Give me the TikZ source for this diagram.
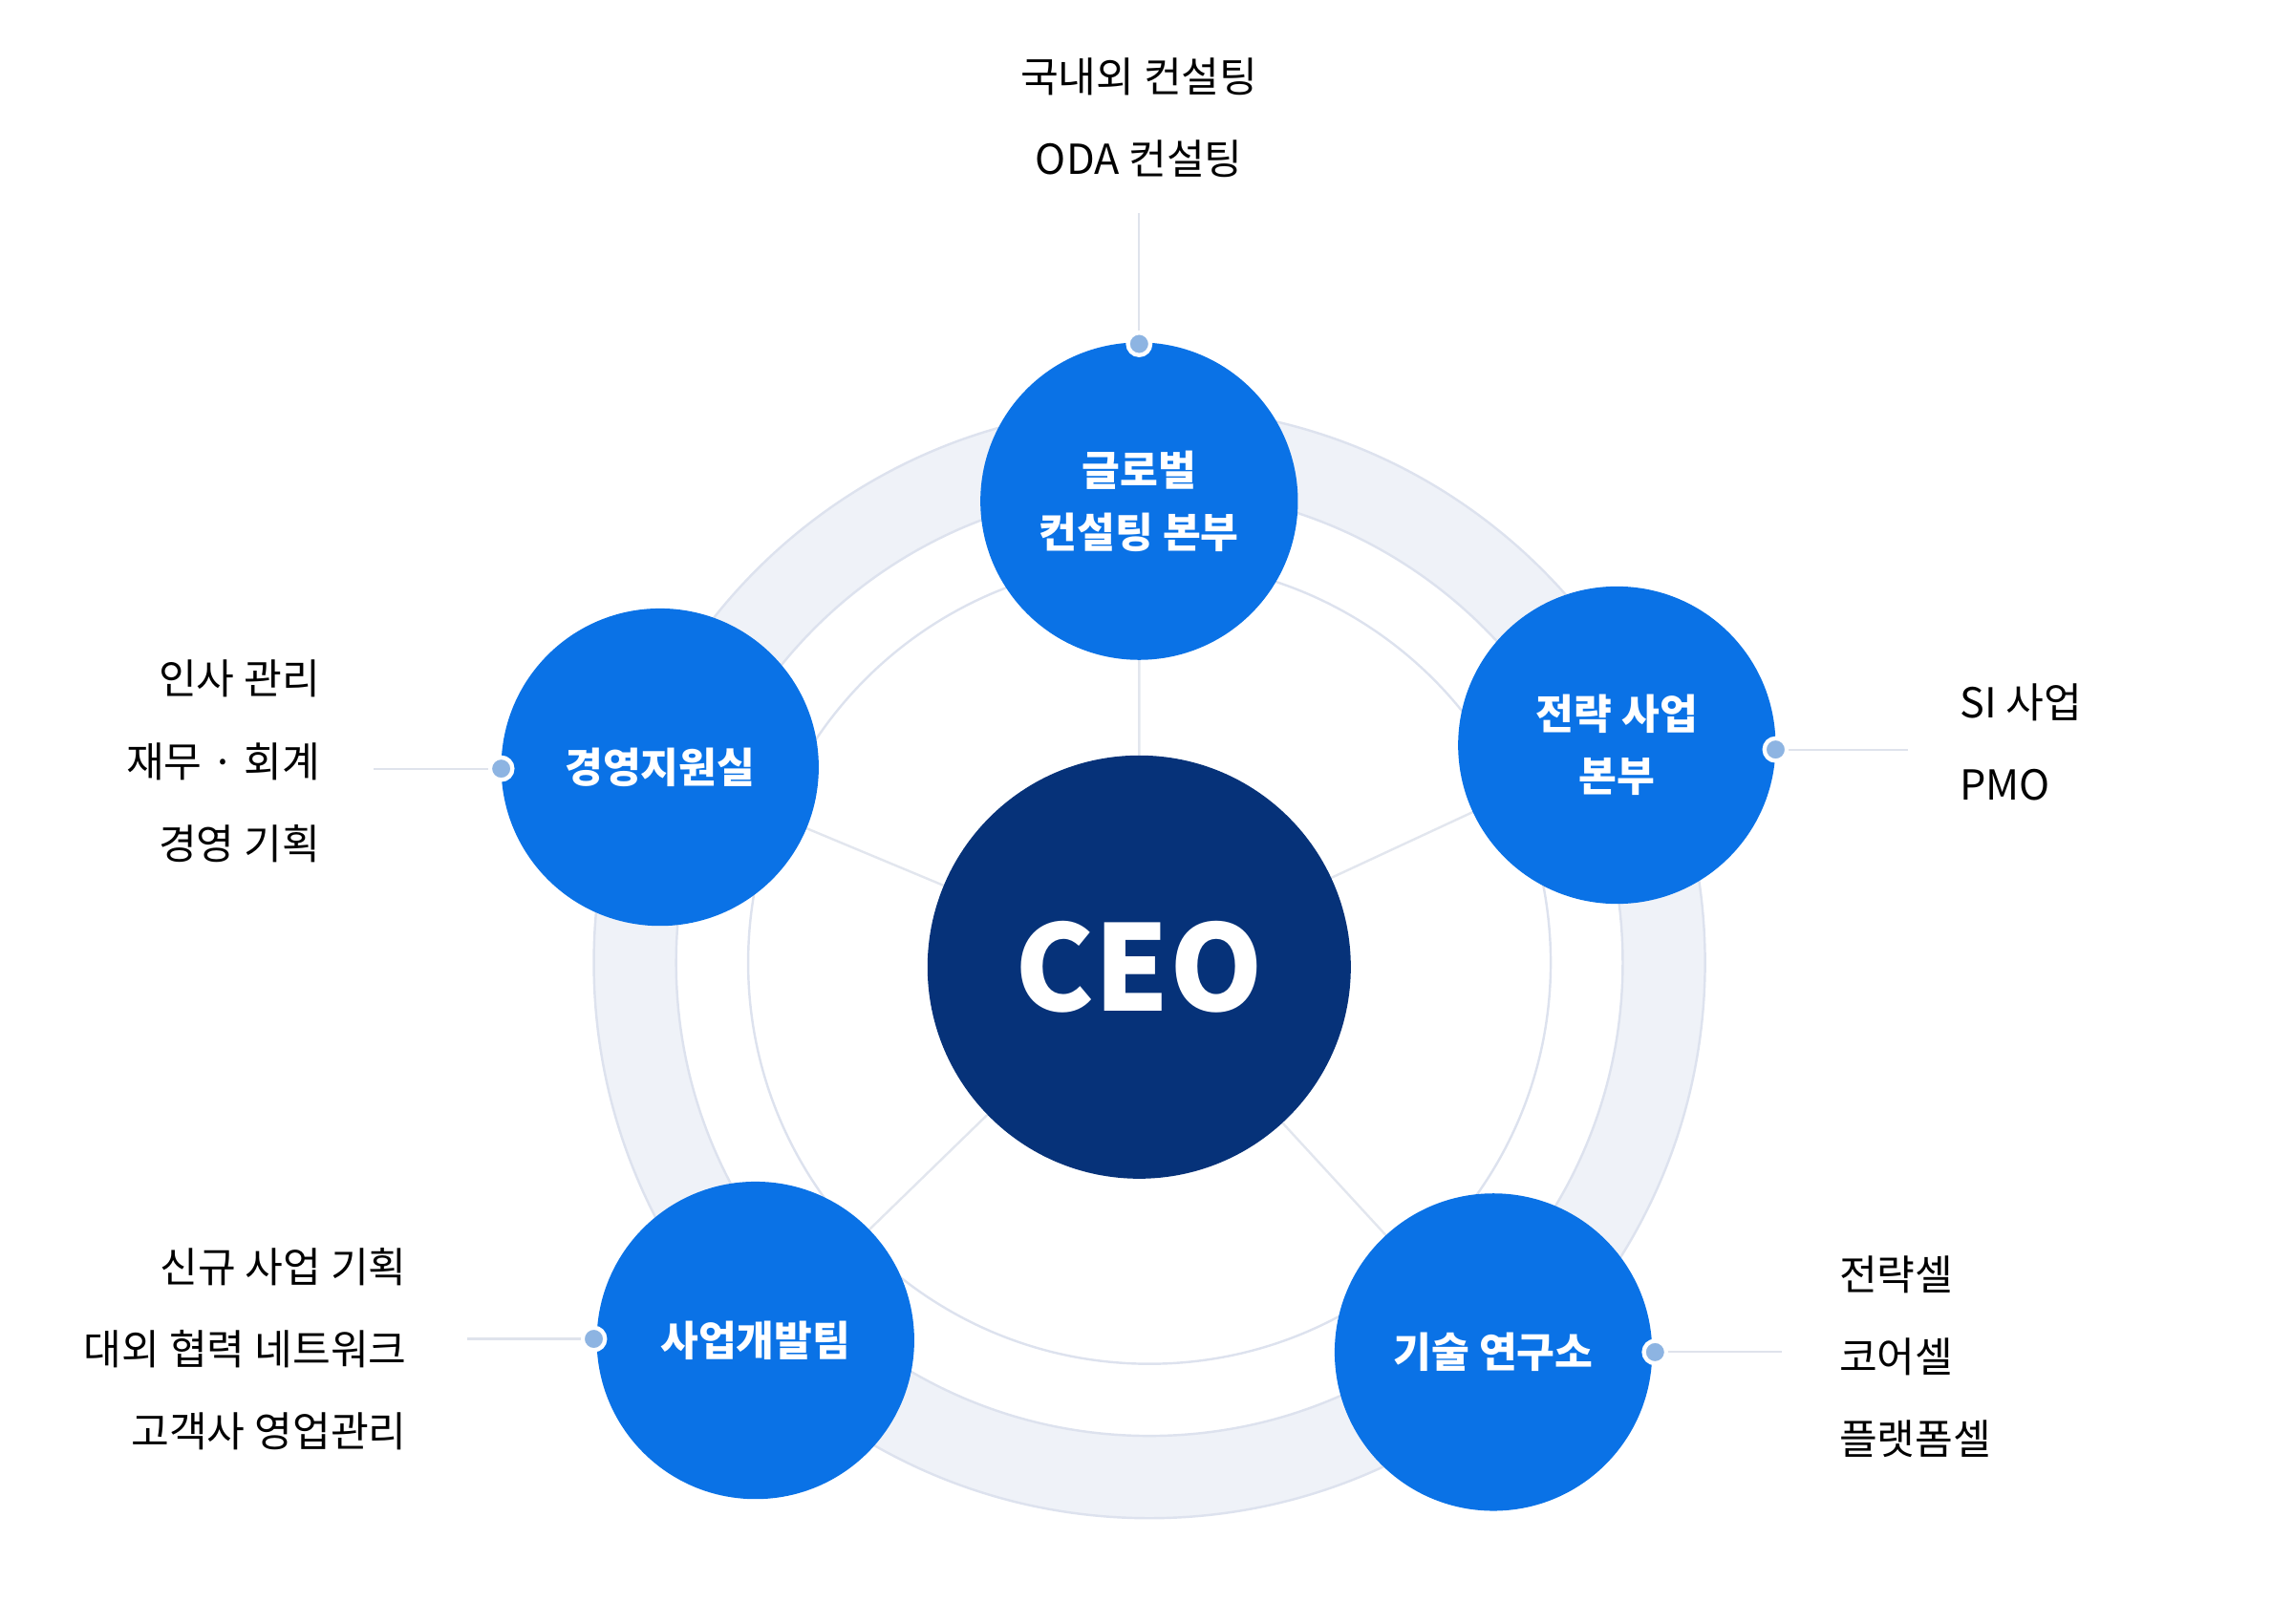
\documentclass[tikz,border=0pt]{standalone}
\usepackage{fontspec}
\setmainfont{Noto Sans CJK KR}
\begin{document}
\begin{tikzpicture}[x=0.02cm,y=-0.02cm,
  dept/.style={circle,fill=nodeblue,minimum size=216*0.02cm,inner sep=0pt,text=white,font=\fontsize{16}{24}\selectfont\bfseries,align=center},
  dot/.style={circle,fill=dotblue,draw=white,line width=1.6pt,minimum size=10*0.02cm+3pt,inner sep=0pt},
  lead/.style={draw=linegray,line width=0.8pt},
  spoke/.style={draw=spokegray,line width=0.9pt},
  lbl/.style={font=\fontsize{16}{28}\selectfont,text=black,inner sep=0pt}]
\definecolor{nodeblue}{HTML}{0A72E6}
\definecolor{navy}{HTML}{063279}
\definecolor{dotblue}{HTML}{8DB4E2}
\definecolor{band}{HTML}{EFF2F8}
\definecolor{bandline}{HTML}{DDE2EE}
\definecolor{linegray}{HTML}{DFE3EC}
\definecolor{spokegray}{HTML}{E2E6EE}
\useasboundingbox (0,0) rectangle (1560,1105);
% ring band
\fill[band,even odd rule] (782,655) circle (378) (782,655) circle (322);
\draw[bandline,line width=0.9pt] (782,655) circle (378);
\draw[bandline,line width=0.9pt] (782,655) circle (322);
\draw[bandline,line width=0.9pt] (782,655) circle (273);
% centres and spokes
\coordinate (c) at (775,658);
\coordinate (gc) at (775,341); \coordinate (sc) at (1100,507);
\coordinate (tc) at (1016,920); \coordinate (bc) at (514,912);
\coordinate (mc) at (449,522);
\path[spoke] (c) -- (gc) (c) -- (sc) (c) -- (tc) (c) -- (bc) (c) -- (mc);
% nodes
\node[dept] (g) at (gc) {글로벌\\컨설팅 본부};
\node[dept] (s) at (sc) {전략 사업\\본부};
\node[dept] (t) at (tc) {기술 연구소};
\node[dept] (b) at (bc) {사업개발팀};
\node[dept] (m) at (mc) {경영지원실};
\node[circle,fill=navy,minimum size=288*0.02cm,inner sep=0pt,text=white,font=\fontsize{46}{50}\selectfont\bfseries] (ceo) at (c) {CEO};
% leads and dots
\coordinate (ge) at (775,145); \coordinate (se) at (1298,510);
\coordinate (te) at (1212,920); \coordinate (be) at (318,911); \coordinate (me) at (254,523);
\node[dot] (gd) at (775,234) {}; \node[dot] (sd) at (1208,510) {};
\node[dot] (td) at (1126,920) {}; \node[dot] (bd) at (404,911) {};
\node[dot] (md) at (341,523) {};
\path[lead] (gd) -- (ge) (sd) -- (se) (td) -- (te) (bd) -- (be) (md) -- (me);
% labels
\node[lbl] (g1) at (775,52) {국내외 컨설팅};
\node[lbl] (g2) at (775,108) {ODA 컨설팅};
\node[lbl,anchor=west] (s1) at (1333,478) {SI 사업};
\node[lbl,anchor=west] (s2) at (1333,534) {PMO};
\node[lbl,anchor=west] (t1) at (1251,867) {전략셀};
\node[lbl,anchor=west] (t2) at (1251,923) {코어셀};
\node[lbl,anchor=west] (t3) at (1251,979) {플랫폼셀};
\node[lbl,anchor=east] (b1) at (277,862) {신규 사업 기획};
\node[lbl,anchor=east] (b2) at (277,918) {대외 협력 네트워크};
\node[lbl,anchor=east] (b3) at (277,974) {고객사 영업관리};
\node[lbl,anchor=east] (m1) at (218,462) {인사 관리};
\node[lbl,anchor=east] (m2) at (218,518) {재무 · 회계};
\node[lbl,anchor=east] (m3) at (218,574) {경영 기획};
\end{tikzpicture}
\end{document}
